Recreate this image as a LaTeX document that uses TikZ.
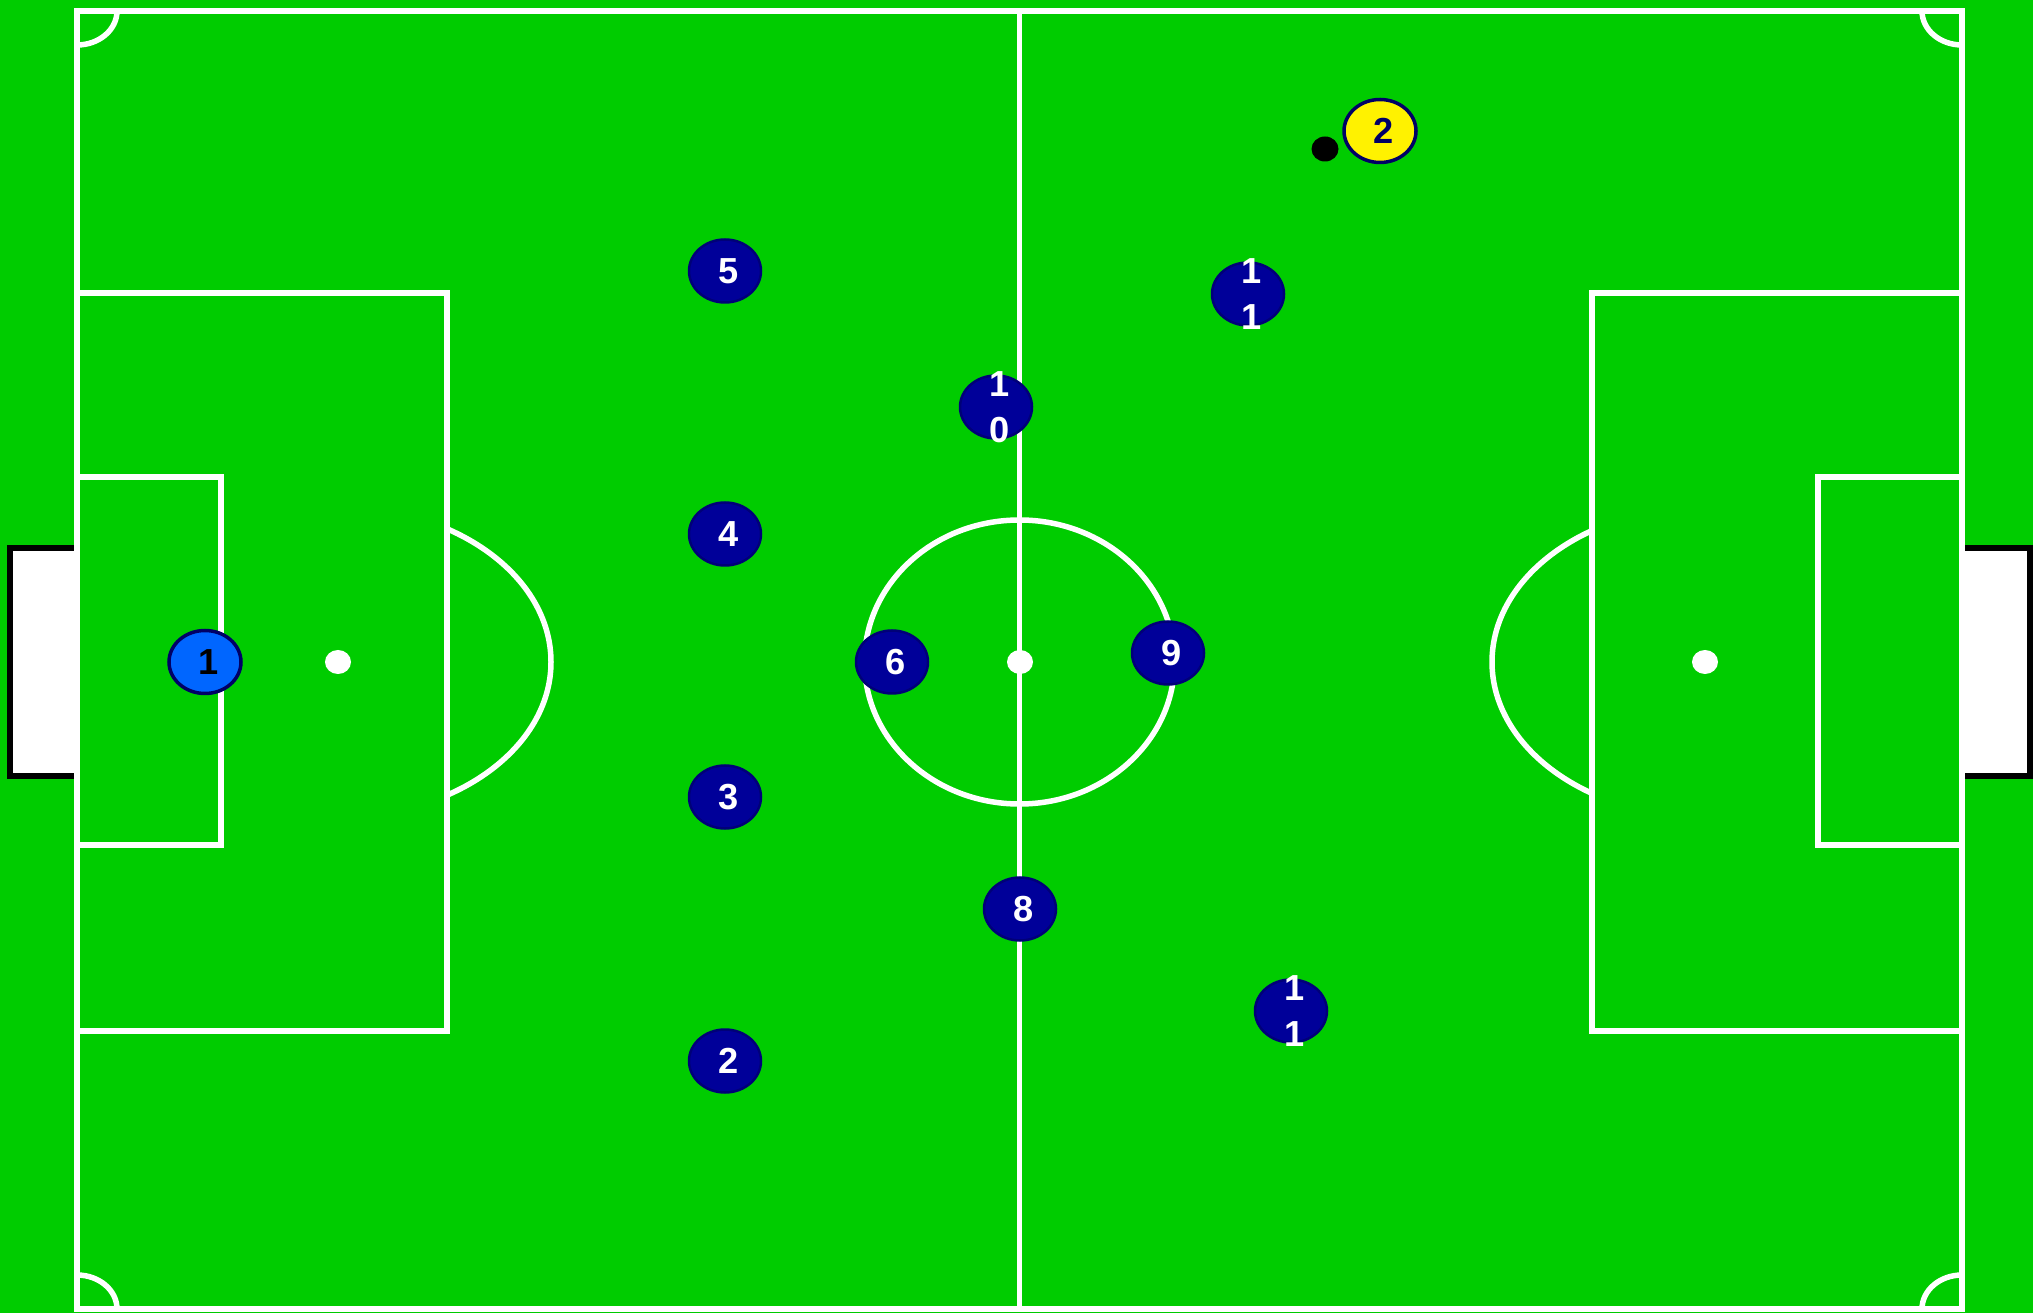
\documentclass[tikz,border=0pt]{standalone}
\usepackage{fontspec}
\setmainfont{Liberation Sans}
\usetikzlibrary{shapes.geometric}
\definecolor{pitchgreen}{RGB}{0,204,0}
\definecolor{home}{RGB}{0,0,153}
\definecolor{homeedge}{RGB}{0,0,120}
\definecolor{keeper}{RGB}{0,102,255}
\definecolor{awaytext}{RGB}{0,0,102}

\begin{document}
\begin{tikzpicture}[x=0.1mm, y=-0.1mm,
    pitchline/.style={white, line width=0.55mm},
    spot/.style={white},
    player/.style={ellipse, draw=homeedge, fill=home, line width=0.25mm,
      minimum width=7.2mm, minimum height=6.3mm, inner sep=0pt},
    goalie/.style={player, fill=keeper, draw=awaytext, line width=0.35mm},
    away/.style={player, fill=yellow, draw=awaytext, line width=0.35mm},
    num/.style={text=white, font=\fontsize{10.3}{13}\selectfont\bfseries,
      align=center, inner sep=0pt, xshift=0.4mm}]
      \useasboundingbox (0,0) rectangle (2033,1313);
      \fill[pitchgreen] (0,0) rectangle (2033,1313);

      % goals
      \filldraw[fill=white, draw=black, line width=0.6mm]
        (77,548) -- (10,548) -- (10,776) -- (77,776);
      \filldraw[fill=white, draw=black, line width=0.6mm]
        (1962,548) -- (2030,548) -- (2030,776) -- (1962,776);

      % pitch markings
      \draw[pitchline] (77,11) rectangle (1962,1309);
      \draw[pitchline] (1019.5,11) -- (1019.5,1309);
      \draw[pitchline] (1019.5,662) ellipse [x radius=155, y radius=142];
      \draw[pitchline] (77,293) rectangle (447,1031);
      \draw[pitchline] (1592,293) rectangle (1962,1031);
      \draw[pitchline] (77,477) rectangle (221,845);
      \draw[pitchline] (1818,477) rectangle (1962,845);
      \begin{scope}
        \clip (447,0) rectangle (800,1313);
        \draw[pitchline] (338,662) ellipse [x radius=213, y radius=155];
      \end{scope}
      \begin{scope}
        \clip (1200,0) rectangle (1592,1313);
        \draw[pitchline] (1705,662) ellipse [x radius=213, y radius=155];
      \end{scope}
      \draw[pitchline] (117,11) arc[start angle=0, end angle=90, x radius=40, y radius=34];
      \draw[pitchline] (1922,11) arc[start angle=180, end angle=90, x radius=40, y radius=34];
      \draw[pitchline] (117,1309) arc[start angle=0, end angle=-90, x radius=40, y radius=34];
      \draw[pitchline] (1922,1309) arc[start angle=180, end angle=270, x radius=40, y radius=34];
      \fill[spot] (1020,662) ellipse [x radius=13, y radius=12];
      \fill[spot] (338,662) ellipse [x radius=13, y radius=12];
      \fill[spot] (1705,662) ellipse [x radius=13, y radius=12];

      % players
      \node[goalie, label={[num, text=black]center:1}] (gk) at (205,662) {};
      \node[player, label={[num]center:2}] (p2) at (725,1061) {};
      \node[player, label={[num]center:3}] (p3) at (725,797) {};
      \node[player, label={[num]center:4}] (p4) at (725,534) {};
      \node[player, label={[num]center:5}] (p5) at (725,271) {};
      \node[player, label={[num]center:6}] (p6) at (892,662) {};
      \node[player, label={[num]center:8}] (p8) at (1020,909) {};
      \node[player, label={[num]center:9}] (p9) at (1168,653) {};
      \node[player, label={[num]center:{1\\0}}] (p10) at (996,407) {};
      \node[player, label={[num]center:{1\\1}}] (p11a) at (1248,294) {};
      \node[player, label={[num]center:{1\\1}}] (p11b) at (1291,1011) {};
      \node[away, label={[num, text=awaytext]center:2}] (opp2) at (1380,131) {};
      \node[ellipse, fill=black, minimum width=2.7mm, minimum height=2.5mm,
        inner sep=0pt] (ball) at (1325,149) {};
    \end{tikzpicture}
\end{document}
